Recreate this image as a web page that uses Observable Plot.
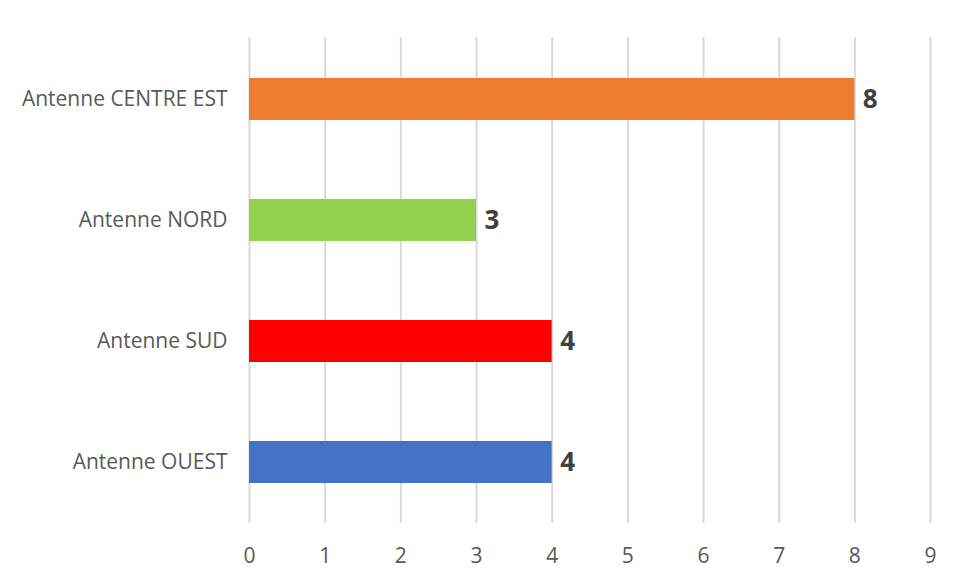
<!DOCTYPE html>
<html><head><meta charset="utf-8">
<script src="https://cdn.jsdelivr.net/npm/d3@7"></script>
<script src="https://cdn.jsdelivr.net/npm/@observablehq/plot@0.6"></script>
<style>body{margin:0;background:#fff;} svg{display:block;}</style>
</head><body><div id="chart"></div>
<script>
const categories = ["Antenne CENTRE EST", "Antenne NORD", "Antenne SUD", "Antenne OUEST"];
const values = [8, 3, 4, 4];
const colors = ["#ED7D31", "#92D050", "#FF0000", "#4472C4"];
const xTicks = [0,1,2,3,4,5,6,7,8,9];
const data = categories.map((c,i)=>({cat:c, v:values[i], col:colors[i]}));
const chart = Plot.plot({
  width: 954, height: 582,
  marginLeft: 249, marginRight: 24, marginTop: 37, marginBottom: 59,
  style: {fontFamily: "'Open Sans', sans-serif", fontSize: "21px", color: "#595959", background: "#fff"},
  x: {domain: [0, 9], ticks: xTicks, label: null},
  y: {domain: categories, label: null, paddingInner: 0.655, paddingOuter: 0.3275},
  marks: [
    Plot.gridX(xTicks, {stroke: "#d9d9d9", strokeOpacity: 1, strokeWidth: 2}),
    Plot.barX(data, {x: "v", y: "cat", fill: "col"}),
    Plot.text(data, {x: "v", y: "cat", text: d => String(d.v), textAnchor: "start", dx: 8, fontWeight: "bold", fontSize: 26, fill: "#404040"}),
    Plot.axisX(xTicks, {tickSize: 0, tickPadding: 25, fontSize: 21, fill: "#595959", tickFormat: d => String(d)}),
    Plot.axisY({tickSize: 0, tickPadding: 22, fontSize: 21, fill: "#595959"})
  ]
});
document.getElementById("chart").appendChild(chart);
</script></body></html>
